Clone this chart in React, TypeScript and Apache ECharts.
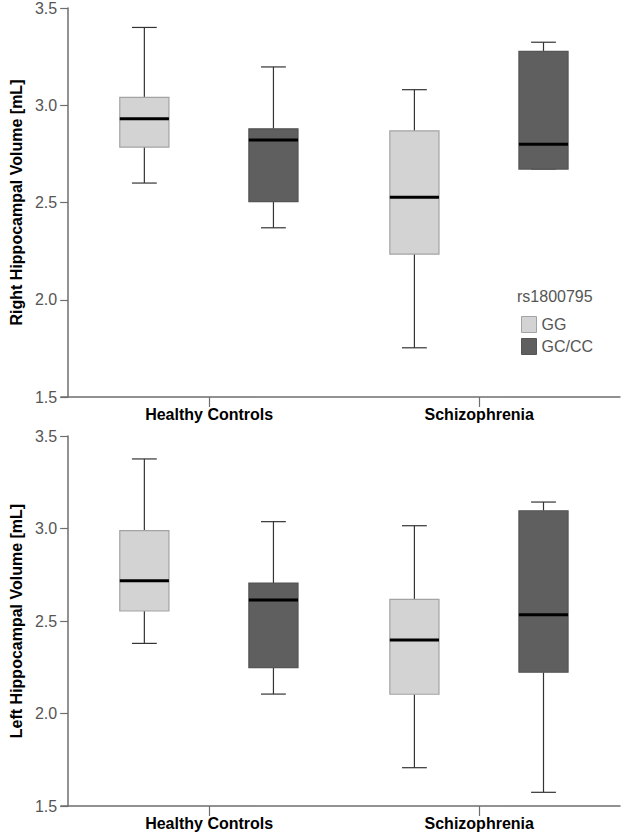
import React, { useEffect, useRef } from "react";
import * as echarts from "echarts";

const categories = ["Healthy Controls", "Schizophrenia"];
const seriesNames = ["GG", "GC/CC"];
const yTicksMin = 1.5;
const yTicksMax = 3.5;
const yTickStep = 0.5;

// each row: [whisker low, Q1, median, Q3, whisker high]
const rightGG = [
  [2.6, 2.785, 2.93, 3.04, 3.4],
  [1.753, 2.235, 2.527, 2.868, 3.08],
];
const rightGC = [
  [2.37, 2.504, 2.821, 2.879, 3.197],
  [2.672, 2.672, 2.8, 3.277, 3.324],
];
const leftGG = [
  [2.379, 2.554, 2.718, 2.988, 3.376],
  [1.707, 2.104, 2.397, 2.617, 3.015],
];
const leftGC = [
  [2.105, 2.248, 2.614, 2.705, 3.037],
  [1.574, 2.223, 2.534, 3.096, 3.143],
];

const FONT = "'Liberation Sans', Arial, Helvetica, sans-serif";
const AXIS_COLOR = "#6e6e6e";

const makeRender =
  (offset: number, fill: string, border: string) => (params: any, api: any) => {
    const cat = api.value(0);
    const band = api.size([1, 0])[0];
    const cx = api.coord([cat, api.value(3)])[0] + offset * band;
    const y = (v: number) => api.coord([cat, v])[1];
    const lo = y(api.value(1));
    const q1 = y(api.value(2));
    const med = y(api.value(3));
    const q3 = y(api.value(4));
    const hi = y(api.value(5));
    const bw = band * 0.182;
    const cw = band * 0.092;
    const wStyle = { stroke: "#333", lineWidth: 1.2 };
    return {
      type: "group",
      children: [
        { type: "line", shape: { x1: cx, y1: hi, x2: cx, y2: q3 }, style: wStyle },
        { type: "line", shape: { x1: cx, y1: q1, x2: cx, y2: lo }, style: wStyle },
        { type: "line", shape: { x1: cx - cw / 2, y1: hi, x2: cx + cw / 2, y2: hi }, style: wStyle },
        { type: "line", shape: { x1: cx - cw / 2, y1: lo, x2: cx + cw / 2, y2: lo }, style: wStyle },
        {
          type: "rect",
          shape: { x: cx - bw / 2, y: q3, width: bw, height: q1 - q3 },
          style: { fill, stroke: border, lineWidth: 1.2 },
        },
        {
          type: "line",
          shape: { x1: cx - bw / 2, y1: med, x2: cx + bw / 2, y2: med },
          style: { stroke: "#000", lineWidth: 3 },
        },
      ],
    };
  };

const toData = (rows: number[][]) => rows.map((r, i) => [i, ...r]);

const GG_FILL = "#d3d3d3";
const GG_BORDER = "#a3a3a3";
const GC_FILL = "#5f5f5f";
const GC_BORDER = "#555555";

export default function App() {
  const ref = useRef<HTMLDivElement>(null);
  useEffect(() => {
    if (!ref.current) return;
    const chart = echarts.init(ref.current, undefined, { renderer: "svg" });
    const mainGrids = [
      { left: 67, right: 11.75, top: 8, height: 389 },
      { left: 67, right: 11.75, top: 436, height: 370 },
    ];
    const frameGrids = [
      { left: 61, right: 6, top: 8, height: 389 },
      { left: 61, right: 6, top: 436, height: 370 },
    ];
    const catAxis = (gridIndex: number) => ({
      type: "category",
      gridIndex,
      data: categories,
      axisLine: { show: false },
      axisTick: { show: true, alignWithLabel: true, length: 10, lineStyle: { color: AXIS_COLOR, width: 1.2 } },
      axisLabel: { margin: 9, fontFamily: FONT, fontSize: 16, fontWeight: "bold", color: "#000" },
      splitLine: { show: false },
    });
    const frameX = (gridIndex: number) => ({
      type: "value",
      gridIndex,
      min: 0,
      max: 1,
      axisLine: { show: true, lineStyle: { color: AXIS_COLOR, width: 1.5 } },
      axisTick: { show: false },
      axisLabel: { show: false },
      splitLine: { show: false },
    });
    const valAxis = (gridIndex: number, name: string) => ({
      type: "value",
      gridIndex,
      min: yTicksMin,
      max: yTicksMax,
      interval: yTickStep,
      offset: 6,
      name,
      nameLocation: "middle",
      nameGap: 40,
      nameTextStyle: { fontFamily: FONT, fontSize: 16, fontWeight: "bold", color: "#000" },
      axisLine: { show: true, lineStyle: { color: AXIS_COLOR, width: 1.5 } },
      axisTick: { show: true, length: 8, lineStyle: { color: AXIS_COLOR, width: 1.2 } },
      axisLabel: {
        margin: 11,
        fontFamily: FONT,
        fontSize: 16,
        color: "#555",
        formatter: (v: number) => v.toFixed(1),
      },
      splitLine: { show: false },
    });
    const frameY = (gridIndex: number) => ({ type: "value", gridIndex, show: false });

    chart.setOption({
      animation: false,
      backgroundColor: "#fff",
      title: {
        text: "rs1800795",
        left: 517,
        top: 288,
        padding: 0,
        textStyle: { fontFamily: FONT, fontSize: 16, fontWeight: "normal", color: "#555" },
      },
      legend: {
        orient: "vertical",
        left: 521,
        top: 316,
        padding: 0,
        itemWidth: 15,
        itemHeight: 16,
        itemGap: 5,
        selectedMode: false,
        textStyle: { fontFamily: FONT, fontSize: 16, color: "#555" },
        data: [
          { name: seriesNames[0], icon: "rect", itemStyle: { color: GG_FILL, borderColor: GG_BORDER, borderWidth: 1 } },
          { name: seriesNames[1], icon: "rect", itemStyle: { color: GC_FILL, borderColor: GC_BORDER, borderWidth: 1 } },
        ],
      },
      grid: [...mainGrids, ...frameGrids],
      xAxis: [catAxis(0), catAxis(1), frameX(2), frameX(3)],
      yAxis: [
        valAxis(0, "Right Hippocampal Volume [mL]"),
        valAxis(1, "Left Hippocampal Volume [mL]"),
        frameY(2),
        frameY(3),
      ],
      series: [
        {
          type: "custom",
          name: seriesNames[0],
          xAxisIndex: 0,
          yAxisIndex: 0,
          itemStyle: { color: GG_FILL },
          encode: { x: 0, y: [1, 2, 3, 4, 5] },
          data: toData(rightGG),
          renderItem: makeRender(-0.24, GG_FILL, GG_BORDER),
        },
        {
          type: "custom",
          name: seriesNames[1],
          xAxisIndex: 0,
          yAxisIndex: 0,
          itemStyle: { color: GC_FILL },
          encode: { x: 0, y: [1, 2, 3, 4, 5] },
          data: toData(rightGC),
          renderItem: makeRender(0.238, GC_FILL, GC_BORDER),
        },
        {
          type: "custom",
          name: seriesNames[0],
          xAxisIndex: 1,
          yAxisIndex: 1,
          itemStyle: { color: GG_FILL },
          encode: { x: 0, y: [1, 2, 3, 4, 5] },
          data: toData(leftGG),
          renderItem: makeRender(-0.24, GG_FILL, GG_BORDER),
        },
        {
          type: "custom",
          name: seriesNames[1],
          xAxisIndex: 1,
          yAxisIndex: 1,
          itemStyle: { color: GC_FILL },
          encode: { x: 0, y: [1, 2, 3, 4, 5] },
          data: toData(leftGC),
          renderItem: makeRender(0.238, GC_FILL, GC_BORDER),
        },
      ],
    });
    return () => chart.dispose();
  }, []);
  return (
    <div
      ref={ref}
      style={{ position: "absolute", left: 0, top: 0, width: 626, height: 840, background: "#fff" }}
    />
  );
}
